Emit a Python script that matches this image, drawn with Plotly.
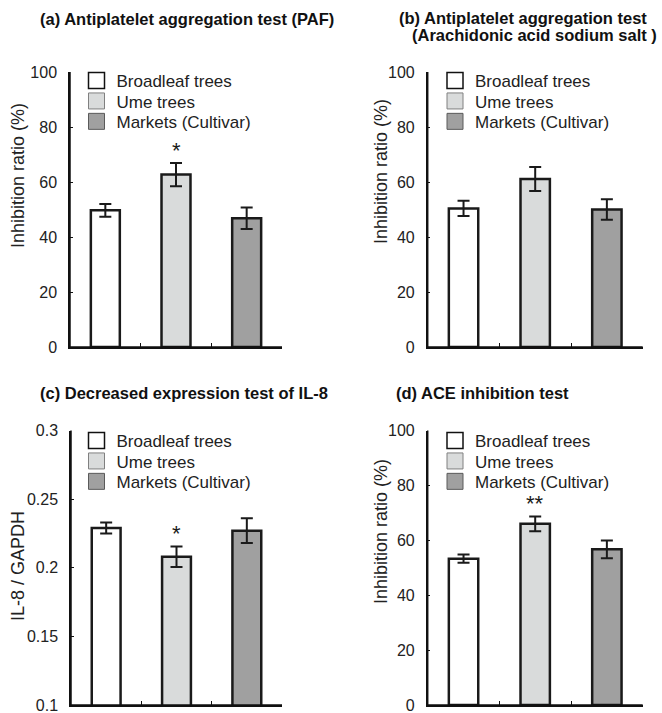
import plotly.graph_objects as go

# ---------------- data ----------------
categories = ["Broadleaf trees", "Ume trees", "Markets (Cultivar)"]
fill_colors = ["#ffffff", "#d9dbdb", "#a0a0a0"]
legend_line_colors = ["#111111", "#808080", "#5a5a5a"]

a_values = [49.7, 62.7, 46.8]
a_errors = [2.3, 4.2, 3.9]
a_marks = ["", "*", ""]

b_values = [50.4, 61.1, 50.0]
b_errors = [2.8, 4.4, 3.7]
b_marks = ["", "", ""]

c_values = [0.229, 0.208, 0.227]
c_errors = [0.004, 0.0075, 0.009]
c_marks = ["", "*", ""]

d_values = [53.3, 66.0, 56.7]
d_errors = [1.5, 2.7, 3.2]
d_marks = ["", "**", ""]

titles = [
    ["(a) Antiplatelet aggregation test (PAF)"],
    ["(b) Antiplatelet aggregation test", "(Arachidonic acid sodium salt )"],
    ["(c) Decreased expression test of IL-8"],
    ["(d) ACE inhibition test"],
]
y_titles = ["Inhibition ratio (%)", "Inhibition ratio (%)", "IL-8 / GAPDH", "Inhibition ratio (%)"]
y_ranges = [[0, 100], [0, 100], [0.1, 0.3], [0, 100]]
y_dticks = [20, 20, 0.05, 20]

# ---------------- layout geometry (pixels) ----------------
W, H = 662, 713
FONT = "Liberation Sans, Arial, Helvetica, sans-serif"
INK = "#111111"

panels = [
    dict(vals=a_values, errs=a_errors, marks=a_marks, xd=(70, 282), yd=(72, 347),
         title_pos=[(38, 19)], ytitle_pos=(18, 176), leg_x=76.5, leg_y=81),
    dict(vals=b_values, errs=b_errors, marks=b_marks, xd=(427.7, 642.7), yd=(72, 347),
         title_pos=[(397, 18), (410, 35)], ytitle_pos=(381, 172), leg_x=435, leg_y=81),
    dict(vals=c_values, errs=c_errors, marks=c_marks, xd=(71, 282), yd=(430.5, 705),
         title_pos=[(38, 393)], ytitle_pos=(18, 566), leg_x=76.5, leg_y=441),
    dict(vals=d_values, errs=d_errors, marks=d_marks, xd=(427.7, 642.7), yd=(430.5, 705),
         title_pos=[(394, 393)], ytitle_pos=(381, 532), leg_x=435, leg_y=441),
]
row_gap = 20.4


def px_x(v):
    return v / W


def px_y(v):
    return 1 - v / H


fig = go.Figure()
annotations = []
shapes = []
layout_extra = {}

for p, pan in enumerate(panels):
    sfx = "" if p == 0 else str(p + 1)
    xa, ya = "x" + sfx, "y" + sfx

    fig.add_trace(go.Bar(
        x=categories, y=pan["vals"],
        marker=dict(color=fill_colors, line=dict(color="#1a1a1a", width=2.5)),
        width=0.41,
        error_y=dict(type="data", array=pan["errs"], visible=True,
                     color="#1a1a1a", thickness=2, width=6),
        xaxis=xa, yaxis=ya, showlegend=False, hoverinfo="skip",
    ))

    # legend entries (one legend per row so rows sit tight like the original)
    for i, cat in enumerate(categories):
        k = p * 3 + i + 1
        lname = "legend" if k == 1 else "legend%d" % k
        fig.add_trace(go.Scatter(
            x=[None], y=[None], mode="markers", name=cat,
            marker=dict(symbol="square", size=16, color=fill_colors[i],
                        line=dict(color=legend_line_colors[i], width=1.5 if i == 0 else 1)),
            xaxis=xa, yaxis=ya, legend=lname, showlegend=True,
        ))
        layout_extra[lname] = dict(
            x=px_x(pan["leg_x"]), xanchor="left",
            y=px_y(pan["leg_y"] + i * row_gap), yanchor="middle",
            bgcolor="rgba(0,0,0,0)", borderwidth=0,
            font=dict(family=FONT, size=17, color="#222222"),
            itemsizing="trace",
        )

    layout_extra["xaxis" + sfx] = dict(
        domain=[px_x(pan["xd"][0]), px_x(pan["xd"][1])], anchor=ya,
        type="category", tickson="boundaries", ticks="inside", ticklen=4,
        tickwidth=1.3, tickcolor=INK, showticklabels=False, automargin=False,
        showline=True, linecolor=INK, linewidth=1.5,
        showgrid=False, zeroline=False, fixedrange=True,
    )
    layout_extra["yaxis" + sfx] = dict(
        domain=[px_y(pan["yd"][1]), px_y(pan["yd"][0])], anchor=xa,
        range=y_ranges[p], dtick=y_dticks[p], ticks="inside", ticklen=3,
        tickwidth=1.3, tickcolor=INK, showline=True, linecolor=INK, linewidth=1.5,
        showgrid=False, zeroline=False, ticklabelstandoff=8, automargin=False,
        ticklabeloverflow="allow",
        tickfont=dict(family=FONT, size=16, color="#222222"), fixedrange=True,
    )

    # axis frame (left + bottom) along the panel's domain edges, in paper space
    x0, x1 = px_x(pan["xd"][0]), px_x(pan["xd"][1])
    y0, y1 = px_y(pan["yd"][1]), px_y(pan["yd"][0])
    shapes.append(dict(type="path", xref="paper", yref="paper",
                       path="M%f,%f L%f,%f L%f,%f" % (x0, y1, x0, y0, x1, y0),
                       line=dict(color=INK, width=1.5), layer="above"))

    # significance marks
    for i, m in enumerate(pan["marks"]):
        if m:
            annotations.append(dict(
                x=categories[i], y=pan["vals"][i] + pan["errs"][i], xref=xa, yref=ya,
                text=m, showarrow=False, yanchor="bottom", yshift=-2,
                font=dict(family=FONT, size=22, color="#1a1a1a"),
            ))

    # panel titles
    for line, (tx, ty) in zip(titles[p], pan["title_pos"]):
        annotations.append(dict(
            x=px_x(tx), y=px_y(ty), xref="paper", yref="paper", xanchor="left",
            yanchor="middle", text="<b>%s</b>" % line, showarrow=False,
            font=dict(family=FONT, size=16.5, color="#111111"),
        ))

    # y-axis titles
    annotations.append(dict(
        x=px_x(pan["ytitle_pos"][0]), y=px_y(pan["ytitle_pos"][1]), xref="paper", yref="paper",
        xanchor="center", yanchor="middle", text=y_titles[p], textangle=-90, showarrow=False,
        font=dict(family=FONT, size=18, color="#222222"),
    ))

fig.update_layout(
    template="none",
    width=W, height=H, margin=dict(l=0, r=0, t=0, b=0, autoexpand=False),
    paper_bgcolor="white", plot_bgcolor="rgba(0,0,0,0)",
    annotations=annotations, shapes=shapes, bargap=0.59,
    **layout_extra,
)

fig.write_html(
    "out.html",
    config={"displayModeBar": False},
    post_script="document.body.style.margin='0';document.body.style.padding='0';",
)
